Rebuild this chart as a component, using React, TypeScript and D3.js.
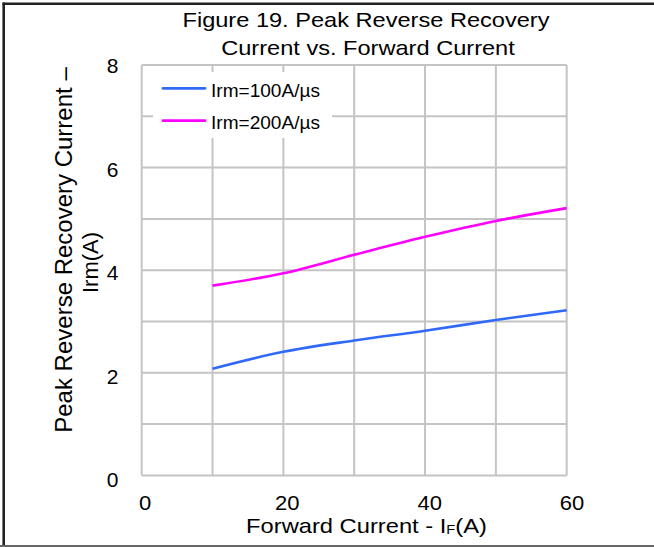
import React from "react";
import * as d3 from "d3";

// Forward current (A) at which the curves were measured
const forwardCurrent = [10, 20, 30, 40, 50, 60];
// Peak reverse recovery current (A) for each di/dt condition
const irm100 = [2.08, 2.41, 2.63, 2.82, 3.03, 3.22];
const irm200 = [3.7, 3.94, 4.3, 4.65, 4.96, 5.21];

const seriesNames = ["Irm=100A/\u00b5s", "Irm=200A/\u00b5s"];
const seriesColors = ["#3068f8", "#ff00ff"];

const xTicks = [0, 20, 40, 60];
const yTicks = [0, 2, 4, 6, 8];
const xGrid = [0, 10, 20, 30, 40, 50, 60];
const yGrid = [0, 1, 2, 3, 4, 5, 6, 7, 8];

const W = 654;
const H = 547;
const FONT = "'Liberation Sans', Arial, Helvetica, sans-serif";

function Label({ x, y, sx = 1, size, anchor = "middle", children, rotate = 0 }: any) {
  return (
    <text
      transform={`translate(${x},${y}) rotate(${rotate}) scale(${sx},1)`}
      textAnchor={anchor}
      fontSize={size}
      fontFamily={FONT}
      fill="#000"
    >
      {children}
    </text>
  );
}

export default function App() {
  const x = d3.scaleLinear().domain([0, 60]).range([141.7, 566.7]);
  const y = d3.scaleLinear().domain([0, 8]).range([475.4, 65]);
  // tick label positions sit slightly off the gridlines
  const xLab = d3.scaleLinear().domain([0, 60]).range([145, 572]);
  const yLab = d3.scaleLinear().domain([0, 8]).range([487, 73.3]);

  const line = d3
    .line<[number, number]>()
    .x((d) => x(d[0]))
    .y((d) => y(d[1]))
    .curve(d3.curveCatmullRom.alpha(0.5));

  const series = [irm100, irm200].map((vals) =>
    forwardCurrent.map((f, i) => [f, vals[i]] as [number, number])
  );

  return (
    <svg
      width={W}
      height={H}
      style={{ position: "absolute", left: 0, top: 0, background: "#fff" }}
    >
      <rect x={0} y={0} width={W} height={H} fill="#fff" />

      {/* frame */}
      <line x1={3.7} y1={2.5} x2={3.7} y2={H} stroke="#222" strokeWidth={2.6} />
      <line x1={2.5} y1={3.7} x2={W} y2={3.7} stroke="#222" strokeWidth={2.6} />
      <line x1={0} y1={546} x2={W} y2={546} stroke="#666" strokeWidth={2} />

      {/* grid */}
      {yGrid.map((v) => (
        <line
          key={"gy" + v}
          x1={x(0)}
          x2={x(60)}
          y1={y(v)}
          y2={y(v)}
          stroke="#c4c4c4"
          strokeWidth={2}
        />
      ))}
      {xGrid.map((v) => (
        <line
          key={"gx" + v}
          x1={x(v)}
          x2={x(v)}
          y1={y(0)}
          y2={y(8)}
          stroke="#c4c4c4"
          strokeWidth={2}
        />
      ))}

      {/* series */}
      {series.map((pts, i) => (
        <path
          key={"s" + i}
          d={line(pts) || ""}
          fill="none"
          stroke={seriesColors[i]}
          strokeWidth={2.6}
          strokeLinecap="butt"
        />
      ))}

      {/* legend */}
      <rect x={153} y={72} width={179} height={66} fill="#fff" />
      {seriesNames.map((name, i) => (
        <g key={"lg" + i}>
          <line
            x1={163}
            x2={205}
            y1={88.3 + i * 32.4}
            y2={88.3 + i * 32.4}
            stroke={seriesColors[i]}
            strokeWidth={2.8}
            strokeLinecap="round"
          />
          <Label x={211} y={96.7 + i * 32.4} size={18} sx={1.06} anchor="start">
            {name}
          </Label>
        </g>
      ))}

      {/* tick labels */}
      {xTicks.map((v) => (
        <Label key={"xt" + v} x={xLab(v)} y={510} size={20} sx={1.1}>
          {v}
        </Label>
      ))}
      {yTicks.map((v) => (
        <Label key={"yt" + v} x={118.5} y={yLab(v)} size={20} sx={1.05} anchor="end">
          {v}
        </Label>
      ))}

      {/* title */}
      <Label x={366} y={27} size={20} sx={1.18}>
        Figure 19. Peak Reverse Recovery
      </Label>
      <Label x={368} y={55} size={20} sx={1.18}>
        Current vs. Forward Current
      </Label>

      {/* axis titles */}
      <Label x={366.5} y={533} size={21} sx={1.13}>
        <tspan>Forward Current - I</tspan>
        <tspan fontSize={13} dy={1}>F</tspan>
        <tspan dy={-1}>(A)</tspan>
      </Label>
      <Label x={72} y={250} size={24} rotate={-90}>
        Peak Reverse Recovery Current {"\u2013"}
      </Label>
      <Label x={98} y={262.5} size={22} rotate={-90}>
        Irm(A)
      </Label>
    </svg>
  );
}
